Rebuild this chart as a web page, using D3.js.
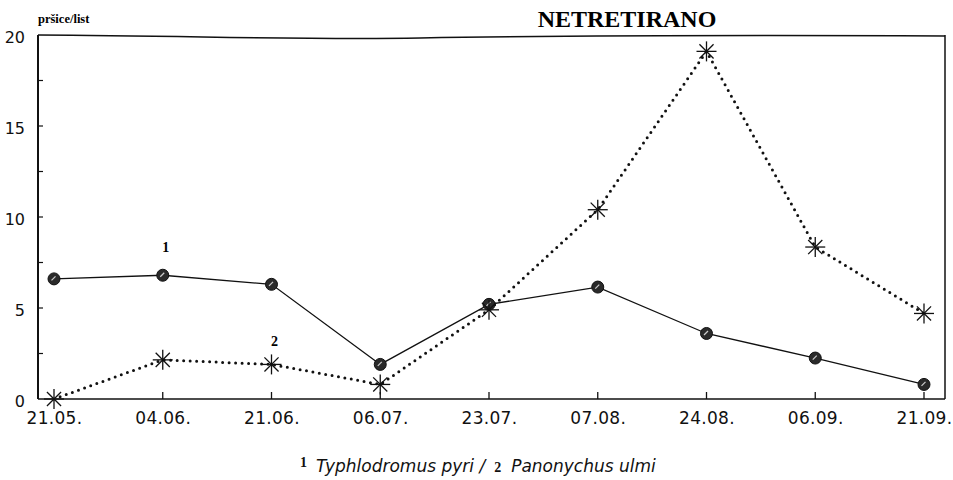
<!DOCTYPE html>
<html><head><meta charset="utf-8">
<script src="https://cdn.jsdelivr.net/npm/d3@7"></script>
<style>body{margin:0;background:#fff}svg{display:block}</style>
</head><body>
<svg id="c" width="953" height="480"></svg>
<script>
const dates = ["21.05.","04.06.","21.06.","06.07.","23.07.","07.08.","24.08.","06.09.","21.09."];
const typhlodromus = [6.6, 6.8, 6.3, 1.9, 5.2, 6.15, 3.6, 2.25, 0.8];
const panonychus = [0, 2.15, 1.9, 0.8, 4.9, 10.4, 19.1, 8.35, 4.7];
const yTicks = [0, 5, 10, 15, 20];
const yMinor = [2.5, 7.5, 12.5, 17.5];

const svg = d3.select("#c");
const L = 38, R = 945, T = 35, B = 399;
const x = d3.scalePoint().domain(dates).range([54, 924]);
const y = d3.scaleLinear().domain([0, 20]).range([B, T]);
const sans = "DejaVu Sans, Verdana, sans-serif";
const serif = "Liberation Serif, Times New Roman, serif";

// frame
const g = svg.append("g");
g.append("line").attr("x1", L).attr("x2", L).attr("y1", T).attr("y2", B).attr("stroke","#111").attr("stroke-width",2);
g.append("line").attr("x1", L).attr("x2", R).attr("y1", B).attr("y2", B).attr("stroke","#111").attr("stroke-width",1.5);
g.append("line").attr("x1", R).attr("x2", R).attr("y1", T).attr("y2", B).attr("stroke","#111").attr("stroke-width",1.5);
g.append("path").attr("d", `M${L},${T} C 200,${T+1} 300,${T+5} 420,${T+3} S 700,${T} ${R},${T+1}`)
  .attr("fill","none").attr("stroke","#111").attr("stroke-width",1.5);

// y axis
const yAxis = d3.axisLeft(y).tickValues(yTicks).tickSize(0).tickPadding(13).tickFormat(d3.format("d"));
const ya = svg.append("g").attr("transform", `translate(${L},0)`).call(yAxis);
ya.select(".domain").remove();
ya.selectAll("text").attr("font-family",sans).attr("font-size",16).attr("fill","#111").attr("dy","0.48em");
svg.append("g").selectAll("line").data(yTicks.concat(yMinor).filter(d=>d>0&&d<20)).join("line")
  .attr("x1", L).attr("x2", L+5).attr("y1", d=>y(d)).attr("y2", d=>y(d)).attr("stroke","#111").attr("stroke-width",1.2);

// x axis
const xAxis = d3.axisBottom(x).tickSize(0).tickPadding(11);
const xa = svg.append("g").attr("transform", `translate(0,${B})`).call(xAxis);
xa.select(".domain").remove();
xa.selectAll("text").attr("font-family",sans).attr("font-size",17).attr("fill","#111").attr("dy","0.85em").attr("letter-spacing","0.3");
svg.append("g").selectAll("line").data(dates.slice(1)).join("line")
  .attr("x1", d=>x(d)).attr("x2", d=>x(d)).attr("y1", B).attr("y2", B-7).attr("stroke","#111").attr("stroke-width",1.3);

// lines
const line1 = d3.line().x((d,i)=>x(dates[i])).y(d=>y(d));
svg.append("path").datum(typhlodromus).attr("d", line1).attr("fill","none").attr("stroke","#111").attr("stroke-width",1.3);
svg.append("path").datum(panonychus).attr("d", line1).attr("fill","none").attr("stroke","#111")
  .attr("stroke-width",3).attr("stroke-dasharray","0 6.5").attr("stroke-linecap","round");

// circle markers
const cm = svg.append("g").selectAll("g").data(typhlodromus).join("g")
  .attr("transform",(d,i)=>`translate(${x(dates[i])},${y(d)})`);
cm.append("circle").attr("r",6).attr("fill","#2a2a2a").attr("stroke","#111").attr("stroke-width",1);
cm.append("path").attr("d","M-2.5,1.5 L1.5,-2.5").attr("stroke","#ccc").attr("stroke-width",1.2);

// asterisk markers
const am = svg.append("g").selectAll("g").data(panonychus).join("g")
  .attr("transform",(d,i)=>`translate(${x(dates[i])},${y(d)})`);
for (let k = 0; k < 4; k++) {
  const a = k * Math.PI / 4;
  am.append("line").attr("x1", -10*Math.cos(a)).attr("y1", -10*Math.sin(a))
    .attr("x2", 10*Math.cos(a)).attr("y2", 10*Math.sin(a)).attr("stroke","#111").attr("stroke-width",1.3);
}

// series labels
svg.append("text").attr("x", x(dates[1])+3).attr("y", y(typhlodromus[1])-23).text("1")
  .attr("font-family",serif).attr("font-weight","bold").attr("font-size",14).attr("text-anchor","middle");
svg.append("text").attr("x", x(dates[2])+3).attr("y", y(panonychus[2])-18).text("2")
  .attr("font-family",serif).attr("font-weight","bold").attr("font-size",14).attr("text-anchor","middle");

// titles
svg.append("text").attr("x", 38).attr("y", 23).text("pršice/list")
  .attr("font-family",serif).attr("font-weight","bold").attr("font-size",12.5);
svg.append("text").attr("x", 627).attr("y", 27).text("NETRETIRANO").attr("text-anchor","middle")
  .attr("font-family",serif).attr("font-weight","bold").attr("font-size",24);

// legend
const leg = svg.append("text").attr("x", 300).attr("y", 472).attr("font-size",17).attr("fill","#111");
leg.append("tspan").text("1").attr("font-family",serif).attr("font-weight","bold").attr("font-size",14).attr("dy","-5");
leg.append("tspan").text("Typhlodromus pyri /").attr("font-family",sans).attr("font-style","italic").attr("dy","5").attr("dx","9");
leg.append("tspan").text("2").attr("font-family",serif).attr("font-weight","bold").attr("font-size",14).attr("dx","9");
leg.append("tspan").text("Panonychus ulmi").attr("font-family",sans).attr("font-style","italic").attr("dx","10");
</script>
</body></html>
